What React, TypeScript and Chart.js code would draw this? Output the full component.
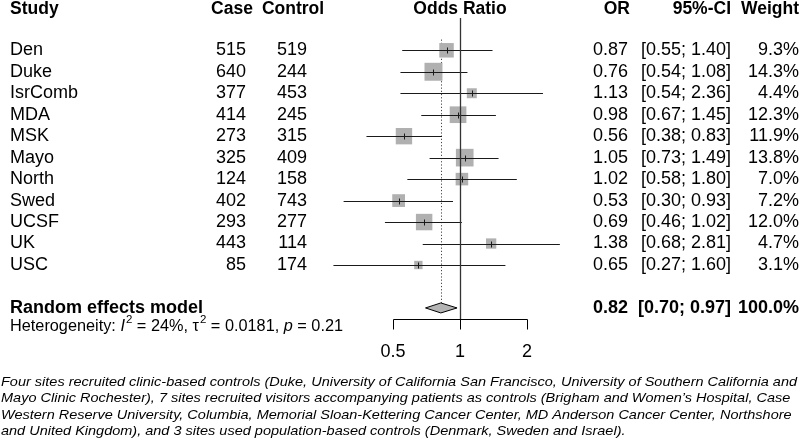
import React, { useEffect, useRef } from 'react';
import { Chart, registerables } from 'chart.js';

Chart.register(...registerables);

// ---------- data ----------
const studies = ['Den', 'Duke', 'IsrComb', 'MDA', 'MSK', 'Mayo', 'North', 'Swed', 'UCSF', 'UK', 'USC'];
const cases = [515, 640, 377, 414, 273, 325, 124, 402, 293, 443, 85];
const controls = [519, 244, 453, 245, 315, 409, 158, 743, 277, 114, 174];
const oddsRatios = [0.87, 0.76, 1.13, 0.98, 0.56, 1.05, 1.02, 0.53, 0.69, 1.38, 0.65];
const ciLower = [0.55, 0.54, 0.54, 0.67, 0.38, 0.73, 0.58, 0.30, 0.46, 0.68, 0.27];
const ciUpper = [1.40, 1.08, 2.36, 1.45, 0.83, 1.49, 1.80, 0.93, 1.02, 2.81, 1.60];
const weights = [9.3, 14.3, 4.4, 12.3, 11.9, 13.8, 7.0, 7.2, 12.0, 4.7, 3.1];

const pooledLabel = 'Random effects model';
const pooledOR = 0.82;
const pooledLower = 0.70;
const pooledUpper = 0.97;
const pooledWeight = 100.0;

const hetI2 = 24;
const hetTau2 = 0.0181;
const hetP = 0.21;

const xTicks = [0.5, 1, 2];
const xTickLabels = ['0.5', '1', '2'];

const headers = { study: 'Study', cases: 'Case', controls: 'Control', plot: 'Odds Ratio', or: 'OR', ci: '95%-CI', weight: 'Weight' };

const captionLines = [
  'Four sites recruited clinic-based controls (Duke, University of California San Francisco, University of Southern California and',
  'Mayo Clinic Rochester), 7 sites recruited visitors accompanying patients as controls (Brigham and Women\u2019s Hospital, Case',
  'Western Reserve University, Columbia, Memorial Sloan-Kettering Cancer Center, MD Anderson Cancer Center, Northshore',
  'and United Kingdom), and 3 sites used population-based controls (Denmark, Sweden and Israel).',
];

// ---------- layout ----------
const W = 800;
const H = 441;
const PX_PER_DOUBLING = 67;
const X_ONE_PX = 460;
const ROW0_PX = 50.3;
const ROW_PX = 21.47;
const X_MIN = Math.pow(2, -X_ONE_PX / PX_PER_DOUBLING);
const X_MAX = Math.pow(2, (W - X_ONE_PX) / PX_PER_DOUBLING);
const Y_MIN = -ROW0_PX / ROW_PX;
const Y_MAX = (H - ROW0_PX) / ROW_PX;

const ROW_HEADER = -1.9;
const ROW_POOLED = 12;
const ROW_HET = 12.85;
const ROW_AXIS = 12.52;
const ROW_TICKLABEL = 14.05;

const FONT = "'Liberation Sans', Arial, Helvetica, sans-serif";
const FS = 18;
const FS_HEAD = 17.5;
const SQUARE_K = 4.75;

const COL = {
  study: 10,
  casesRight: 246,
  casesHeaderCenter: 232,
  controlsRight: 307,
  controlsHeaderCenter: 293,
  orRight: 628,
  ciRight: 731,
  weightRight: 799,
};

const fmt2 = (v: number) => v.toFixed(2);
const ciText = (lo: number, hi: number) => `[${fmt2(lo)}; ${fmt2(hi)}]`;

const forestPlugin = {
  id: 'forest',
  beforeDatasetsDraw(chart: any) {
    const { ctx, scales } = chart;
    const xs = scales.x;
    const ys = scales.y;
    const px = xs.getPixelForValue(pooledOR);
    ctx.save();
    ctx.strokeStyle = '#444';
    ctx.lineWidth = 1;
    ctx.setLineDash([1.2, 2]);
    ctx.beginPath();
    ctx.moveTo(Math.round(px) + 0.5, ys.getPixelForValue(-0.5));
    ctx.lineTo(Math.round(px) + 0.5, ys.getPixelForValue(ROW_POOLED) - 5);
    ctx.stroke();
    ctx.restore();
  },
  afterDatasetsDraw(chart: any) {
    const { ctx, scales } = chart;
    const xs = scales.x;
    const ys = scales.y;
    const X = (v: number) => xs.getPixelForValue(v);
    const Y = (v: number) => ys.getPixelForValue(v);
    ctx.save();

    // confidence interval lines + centre ticks
    ctx.strokeStyle = '#1a1a1a';
    ctx.lineWidth = 1;
    studies.forEach((_, i) => {
      const y = Math.round(Y(i)) + 0.5;
      ctx.beginPath();
      ctx.moveTo(X(ciLower[i]), y);
      ctx.lineTo(X(ciUpper[i]), y);
      ctx.stroke();
      const cx = Math.round(X(oddsRatios[i])) + 0.5;
      ctx.beginPath();
      ctx.moveTo(cx, y - 3);
      ctx.lineTo(cx, y + 3);
      ctx.stroke();
    });

    // line of no effect
    const axisY = Math.round(Y(ROW_AXIS)) + 0.5;
    ctx.strokeStyle = '#333';
    ctx.lineWidth = 1.3;
    ctx.beginPath();
    ctx.moveTo(Math.round(X(1)) + 0.5, Y(-1.5));
    ctx.lineTo(Math.round(X(1)) + 0.5, axisY);
    ctx.stroke();

    // diamond
    const dy = Y(ROW_POOLED);
    ctx.lineWidth = 1;
    ctx.strokeStyle = '#000';
    ctx.fillStyle = '#b4b4b4';
    ctx.beginPath();
    ctx.moveTo(X(pooledLower), dy);
    ctx.lineTo(X(pooledOR), dy - 5);
    ctx.lineTo(X(pooledUpper), dy);
    ctx.lineTo(X(pooledOR), dy + 5);
    ctx.closePath();
    ctx.fill();
    ctx.stroke();

    // axis
    ctx.strokeStyle = '#000';
    ctx.lineWidth = 1;
    ctx.beginPath();
    ctx.moveTo(Math.round(X(xTicks[0])) + 0.5, axisY);
    ctx.lineTo(Math.round(X(xTicks[xTicks.length - 1])) + 0.5, axisY);
    ctx.stroke();
    xTicks.forEach((t) => {
      const x = Math.round(X(t)) + 0.5;
      ctx.beginPath();
      ctx.moveTo(x, axisY);
      ctx.lineTo(x, axisY + 10);
      ctx.stroke();
    });

    ctx.fillStyle = '#000';
    ctx.textBaseline = 'middle';
    ctx.font = `${FS}px ${FONT}`;
    ctx.textAlign = 'center';
    xTicks.forEach((t, i) => ctx.fillText(xTickLabels[i], X(t), Y(ROW_TICKLABEL)));

    // headers
    const hy = Y(ROW_HEADER);
    ctx.font = `bold ${FS_HEAD}px ${FONT}`;
    ctx.textAlign = 'left';
    ctx.fillText(headers.study, COL.study, hy);
    ctx.textAlign = 'center';
    ctx.fillText(headers.cases, COL.casesHeaderCenter, hy);
    ctx.fillText(headers.controls, COL.controlsHeaderCenter, hy);
    ctx.fillText(headers.plot, X(1), hy);
    ctx.textAlign = 'right';
    ctx.fillText(headers.or, COL.orRight + 2, hy);
    ctx.fillText(headers.ci, COL.ciRight, hy);
    ctx.fillText(headers.weight, COL.weightRight, hy);

    // study rows
    ctx.font = `${FS}px ${FONT}`;
    studies.forEach((s, i) => {
      const y = Y(i);
      ctx.textAlign = 'left';
      ctx.fillText(s, COL.study, y);
      ctx.textAlign = 'right';
      ctx.fillText(String(cases[i]), COL.casesRight, y);
      ctx.fillText(String(controls[i]), COL.controlsRight, y);
      ctx.fillText(fmt2(oddsRatios[i]), COL.orRight, y);
      ctx.fillText(ciText(ciLower[i], ciUpper[i]), COL.ciRight, y);
      ctx.fillText(weights[i].toFixed(1) + '%', COL.weightRight, y);
    });

    // pooled row
    const py = Y(ROW_POOLED);
    ctx.font = `bold ${FS}px ${FONT}`;
    ctx.textAlign = 'left';
    ctx.fillText(pooledLabel, COL.study, py);
    ctx.textAlign = 'right';
    ctx.fillText(fmt2(pooledOR), COL.orRight, py);
    ctx.fillText(ciText(pooledLower, pooledUpper), COL.ciRight, py);
    ctx.fillText(pooledWeight.toFixed(1) + '%', COL.weightRight, py);

    // heterogeneity
    const hty = Y(ROW_HET);
    const segs: { t: string; it?: boolean; sup?: boolean }[] = [
      { t: 'Heterogeneity: ' },
      { t: 'I', it: true },
      { t: '2', sup: true },
      { t: ` = ${hetI2}%, ` },
      { t: '\u03c4' },
      { t: '2', sup: true },
      { t: ` = ${hetTau2}, ` },
      { t: 'p', it: true },
      { t: ` = ${hetP}` },
    ];
    ctx.textAlign = 'left';
    let hx = COL.study;
    const HFS = 16.3;
    segs.forEach((sg) => {
      if (sg.sup) {
        ctx.font = `${11.5}px ${FONT}`;
        ctx.fillText(sg.t, hx + 1, hty - 6);
        hx += ctx.measureText(sg.t).width + 1;
      } else {
        ctx.font = `${sg.it ? 'italic ' : ''}${HFS}px ${FONT}`;
        ctx.fillText(sg.t, hx, hty);
        hx += ctx.measureText(sg.t).width;
      }
    });

    // caption
    ctx.font = `italic 13.5px ${FONT}`;
    ctx.textBaseline = 'middle';
    ctx.textAlign = 'left';
    const sx = 796 / ctx.measureText(captionLines[0]).width;
    const capY = [382, 398.5, 415, 431];
    captionLines.forEach((line, i) => {
      ctx.save();
      ctx.translate(1, capY[i]);
      ctx.scale(sx, 1);
      ctx.fillText(line, 0, 0);
      ctx.restore();
    });

    ctx.restore();
  },
};

export default function App() {
  const ref = useRef<HTMLCanvasElement>(null);
  useEffect(() => {
    const canvas = ref.current;
    if (!canvas) return;
    const chart = new Chart(canvas, {
      type: 'scatter',
      data: {
        datasets: [
          {
            data: studies.map((_, i) => ({ x: oddsRatios[i], y: i })),
            pointStyle: 'rect',
            pointRadius: weights.map((w) => (SQUARE_K * Math.sqrt(w)) / (2 * Math.SQRT1_2)),
            pointHoverRadius: weights.map((w) => (SQUARE_K * Math.sqrt(w)) / (2 * Math.SQRT1_2)),
            backgroundColor: '#b0b0b0',
            borderWidth: 0,
          },
        ],
      },
      options: {
        responsive: false,
        animation: false,
        events: [],
        layout: { padding: 0, autoPadding: false },
        plugins: { legend: { display: false }, tooltip: { enabled: false } },
        scales: {
          x: { type: 'logarithmic', display: false, min: X_MIN, max: X_MAX },
          y: { type: 'linear', display: false, reverse: true, min: Y_MIN, max: Y_MAX },
        },
      } as any,
      plugins: [forestPlugin],
    });
    return () => chart.destroy();
  }, []);
  return (
    <div style={{ position: 'fixed', left: 0, top: 0, width: W, height: H, background: '#fff' }}>
      <canvas ref={ref} width={W} height={H} style={{ display: 'block', width: W, height: H }} />
    </div>
  );
}
